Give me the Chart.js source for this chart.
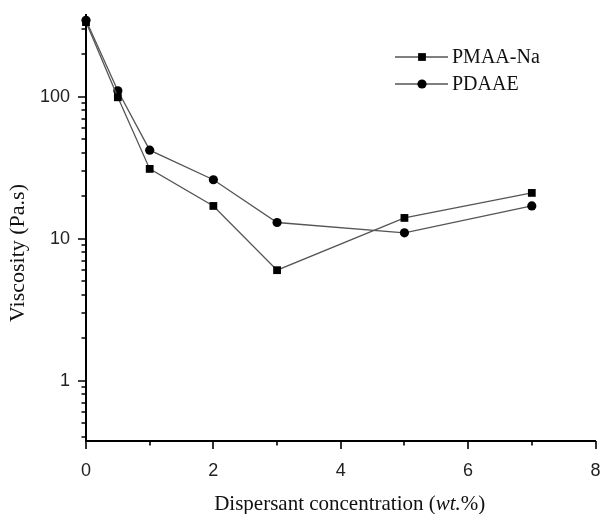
<!DOCTYPE html>
<html>
<head>
<meta charset="utf-8">
<script src="https://cdn.jsdelivr.net/npm/chart.js@4/dist/chart.umd.min.js"></script>
<style>
html,body{margin:0;padding:0;background:#fff;}
#wrap{width:601px;height:514px;position:relative;}
</style>
</head>
<body>
<div id="wrap"><canvas id="c" width="601" height="514"></canvas></div>
<script>
// ---- data ----
const concentrations = [0, 0.5, 1, 2, 3, 5, 7];
const pmaaNa = [335, 99, 31, 17, 6, 14, 21];
const pdaae = [345, 110, 42, 26, 13, 11, 17];
const seriesNames = ['PMAA-Na', 'PDAAE'];
const xTickLabels = [0, 2, 4, 6, 8];
const yTickLabels = [1, 10, 100];
const yMinorTicks = [0.4, 0.5, 0.6, 0.7, 0.8, 0.9, 2, 3, 4, 5, 6, 7, 8, 9, 20, 30, 40, 50, 60, 70, 80, 90, 200, 300];
const xTitleParts = ['Dispersant concentration (', 'wt.', '%)'];
const yTitle = 'Viscosity (Pa.s)';

const SERIF = '"Liberation Serif", "Times New Roman", serif';
const SANS = '"Liberation Sans", Arial, sans-serif';

const tickPlugin = {
  id: 'tickMarks',
  afterDraw(chart) {
    const ctx = chart.ctx;
    const ca = chart.chartArea;
    const xs = chart.scales.x, ys = chart.scales.y;
    ctx.save();
    ctx.strokeStyle = '#000';
    ctx.lineWidth = 1.6;
    ctx.beginPath();
    xs.ticks.forEach(t => {
      const px = Math.round(xs.getPixelForValue(t.value));
      const len = xTickLabels.includes(t.value) ? 8 : 4.5;
      ctx.moveTo(px, ca.bottom);
      ctx.lineTo(px, ca.bottom + len);
    });
    ys.ticks.forEach(t => {
      const py = Math.round(ys.getPixelForValue(t.value));
      const len = yTickLabels.includes(t.value) ? 8 : 4.5;
      ctx.moveTo(ca.left, py);
      ctx.lineTo(ca.left - len, py);
    });
    ctx.stroke();

    // x title with italic part
    ctx.fillStyle = '#111';
    ctx.textBaseline = 'alphabetic';
    const fonts = ['21px ' + SERIF, 'italic 21px ' + SERIF, '21px ' + SERIF];
    let widths = xTitleParts.map((p, i) => { ctx.font = fonts[i]; return ctx.measureText(p).width; });
    const total = widths.reduce((a, b) => a + b, 0);
    let x = (ca.left + ca.right) / 2 + 9 - total / 2;
    xTitleParts.forEach((p, i) => {
      ctx.font = fonts[i];
      ctx.textAlign = 'left';
      ctx.fillText(p, x, 510);
      x += widths[i];
    });

    // y title
    ctx.save();
    ctx.translate(24, 253);
    ctx.rotate(-Math.PI / 2);
    ctx.font = '22px ' + SERIF;
    ctx.textAlign = 'center';
    ctx.fillText(yTitle, 0, 0);
    ctx.restore();

    // legend
    const rows = [57, 84];
    chart.data.datasets.forEach((ds, i) => {
      const y = rows[i];
      ctx.strokeStyle = ds.borderColor;
      ctx.lineWidth = ds.borderWidth;
      ctx.beginPath();
      ctx.moveTo(395, y);
      ctx.lineTo(448, y);
      ctx.stroke();
      ctx.fillStyle = '#000';
      ctx.beginPath();
      if (ds.pointStyle === 'rect') {
        const s = ds.pointRadius * Math.SQRT1_2;
        ctx.rect(422 - s, y - s, 2 * s, 2 * s);
      } else {
        ctx.arc(422, y, ds.pointRadius, 0, Math.PI * 2);
      }
      ctx.fill();
      ctx.fillStyle = '#111';
      ctx.font = '20px ' + SERIF;
      ctx.textAlign = 'left';
      ctx.textBaseline = 'middle';
      ctx.fillText(ds.label, 452, y + 1);
    });
    ctx.restore();
  }
};

new Chart(document.getElementById('c'), {
  type: 'line',
  data: {
    datasets: [
      {
        label: seriesNames[0],
        data: concentrations.map((c, i) => ({x: c, y: pmaaNa[i]})),
        borderColor: '#555',
        borderWidth: 1.3,
        pointStyle: 'rect',
        pointRadius: 5.5,
        pointBackgroundColor: '#000',
        pointBorderColor: '#000',
        pointBorderWidth: 0,
        tension: 0,
        clip: false
      },
      {
        label: seriesNames[1],
        data: concentrations.map((c, i) => ({x: c, y: pdaae[i]})),
        borderColor: '#555',
        borderWidth: 1.3,
        pointStyle: 'circle',
        pointRadius: 4.6,
        pointBackgroundColor: '#000',
        pointBorderColor: '#000',
        pointBorderWidth: 0,
        tension: 0,
        clip: false
      }
    ]
  },
  options: {
    responsive: false,
    animation: false,
    devicePixelRatio: 1,
    layout: {padding: {top: 15, right: 5, left: 0, bottom: 0}},
    plugins: {legend: {display: false}, tooltip: {enabled: false}},
    scales: {
      x: {
        type: 'linear',
        min: 0, max: 8,
        grid: {display: false, drawTicks: false},
        border: {display: true, color: '#000', width: 2},
        ticks: {
          stepSize: 1,
          padding: 19,
          color: '#222',
          font: {family: SANS, size: 18},
          maxRotation: 0,
          autoSkip: false,
          callback: v => xTickLabels.includes(v) ? String(v) : ''
        },
        afterFit: s => { s.height = 73; s.paddingLeft = 0; s.paddingRight = 0; }
      },
      y: {
        type: 'logarithmic',
        min: 0.376, max: 376,
        grid: {display: false, drawTicks: false},
        border: {display: true, color: '#000', width: 2},
        ticks: {
          padding: 16,
          color: '#222',
          font: {family: SANS, size: 18},
          autoSkip: false,
          callback: v => yTickLabels.includes(v) ? String(v) : ''
        },
        afterBuildTicks: s => {
          const vals = yMinorTicks.concat(yTickLabels).sort((a, b) => a - b);
          s.ticks = vals.map(v => ({value: v}));
        },
        afterFit: s => { s.width = 86; s.paddingTop = 0; s.paddingBottom = 0; }
      }
    }
  },
  plugins: [tickPlugin]
});
</script>
</body>
</html>
